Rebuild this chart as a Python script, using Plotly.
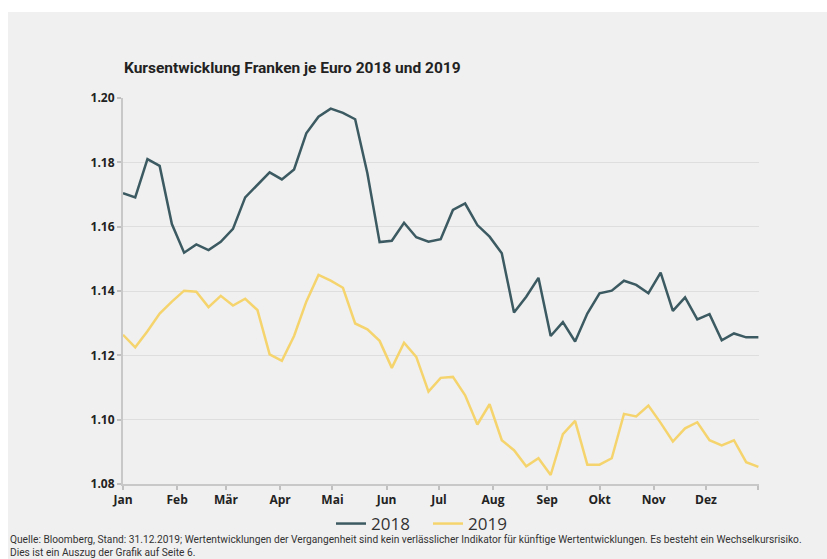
import plotly.graph_objects as go

weeks = list(range(53))

kurs_2018 = [1.1704, 1.1691, 1.1810, 1.1789, 1.1608, 1.1519, 1.1545, 1.1527, 1.1553, 1.1593,
             1.1691, 1.1729, 1.1769, 1.1747, 1.1778, 1.1890, 1.1942, 1.1967, 1.1954, 1.1934,
             1.1766, 1.1552, 1.1556, 1.1612, 1.1567, 1.1553, 1.1561, 1.1652, 1.1672, 1.1605,
             1.1569, 1.1517, 1.1333, 1.1382, 1.1441, 1.1260, 1.1303, 1.1243, 1.1330, 1.1393,
             1.1401, 1.1432, 1.1419, 1.1393, 1.1457, 1.1338, 1.1380, 1.1312, 1.1328, 1.1247,
             1.1268, 1.1256, 1.1256]

kurs_2019 = [1.1264, 1.1225, 1.1275, 1.1330, 1.1367, 1.1401, 1.1398, 1.1350, 1.1385, 1.1355,
             1.1376, 1.1341, 1.1203, 1.1183, 1.1260, 1.1367, 1.1450, 1.1432, 1.1410, 1.1299,
             1.1281, 1.1245, 1.1161, 1.1239, 1.1195, 1.1087, 1.1130, 1.1133, 1.1076, 1.0985,
             1.1048, 1.0936, 1.0905, 1.0855, 1.0880, 1.0828, 1.0955, 1.0996, 1.0860, 1.0860,
             1.0880, 1.1018, 1.1010, 1.1044, 1.0990, 1.0932, 1.0973, 1.0992, 1.0936, 1.0920,
             1.0936, 1.0868, 1.0853]

month_labels = ["Jan", "Feb", "Mär", "Apr", "Mai", "Jun", "Jul", "Aug", "Sep", "Okt", "Nov", "Dez", ""]
month_days = [0, 31, 59, 90, 120, 151, 181, 212, 243, 273, 304, 334, 364]
month_pos = [d / 7 for d in month_days]

y_ticks = [1.08, 1.10, 1.12, 1.14, 1.16, 1.18, 1.20]
y_labels = ["1.08", "1.10", "1.12", "1.14", "1.16", "1.18", "1.20"]

title_text = "Kursentwicklung Franken je Euro 2018 und 2019"
footer_text = ("Quelle: Bloomberg, Stand: 31.12.2019; Wertentwicklungen der Vergangenheit sind kein verlässlicher "
               "Indikator für künftige Wertentwicklungen. Es besteht ein Wechselkursrisiko.<br>"
               "Dies ist ein Auszug der Grafik auf Seite 6.")

W, H = 827, 559
L, R, T, B = 123, 68, 98, 75
pw, ph = W - L - R, H - T - B

def px(x):
    return (x - L) / pw

def py(y):
    return (H - B - y) / ph

fig = go.Figure()
fig.add_trace(go.Scatter(x=weeks, y=kurs_2018, mode="lines", name="2018",
                         line=dict(color="#3b5a61", width=2.5)))
fig.add_trace(go.Scatter(x=weeks, y=kurs_2019, mode="lines", name="2019",
                         line=dict(color="#f5d46e", width=2.5)))

fig.add_shape(type="rect", xref="paper", yref="paper", x0=px(8), x1=px(827), y0=py(12), y1=py(560),
              fillcolor="#f0f0f0", line=dict(width=0), layer="below")

fig.add_annotation(text="<b>" + title_text + "</b>", xref="paper", yref="paper",
                   x=px(122), y=py(68), xanchor="left", yanchor="middle", showarrow=False,
                   font=dict(family="Roboto", size=15.5, color="#222222"))

fig.add_annotation(text=footer_text, xref="paper", yref="paper", align="left",
                   x=px(9), y=py(559), xanchor="left", yanchor="bottom", showarrow=False,
                   borderpad=0, font=dict(family="Roboto", size=10.2, color="#333333"))

fig.update_layout(
    width=W, height=H,
    margin=dict(l=L, r=R, t=T, b=B),
    paper_bgcolor="white",
    plot_bgcolor="#f0f0f0",
    showlegend=True,
    legend=dict(orientation="h", x=px(428), y=py(524), xanchor="center", yanchor="middle",
                font=dict(family="Open Sans", size=17, color="#333333"),
                bgcolor="rgba(0,0,0,0)", entrywidth=52, entrywidthmode="pixels", tracegroupgap=0),
    xaxis=dict(range=[0, 52.05], tickmode="array", tickvals=month_pos, ticktext=month_labels,
               showgrid=False, zeroline=False, showline=True, linecolor="#c8c8c8", linewidth=2,
               ticks="outside", ticklen=4, tickwidth=1.5, tickcolor="#c0c0c0",
               tickfont=dict(family="Open Sans", size=12, color="#222222", weight="bold")),
    yaxis=dict(range=[1.08, 1.20], tickmode="array", tickvals=y_ticks, ticktext=y_labels,
               showgrid=True, gridcolor="#dedede", gridwidth=1, zeroline=False,
               showline=True, linecolor="#c8c8c8", linewidth=2,
               ticks="outside", ticklen=4, tickwidth=1.5, tickcolor="#c0c0c0",
               tickfont=dict(family="Open Sans", size=12, color="#222222", weight="bold")),
)

fig.write_html("out.html")
